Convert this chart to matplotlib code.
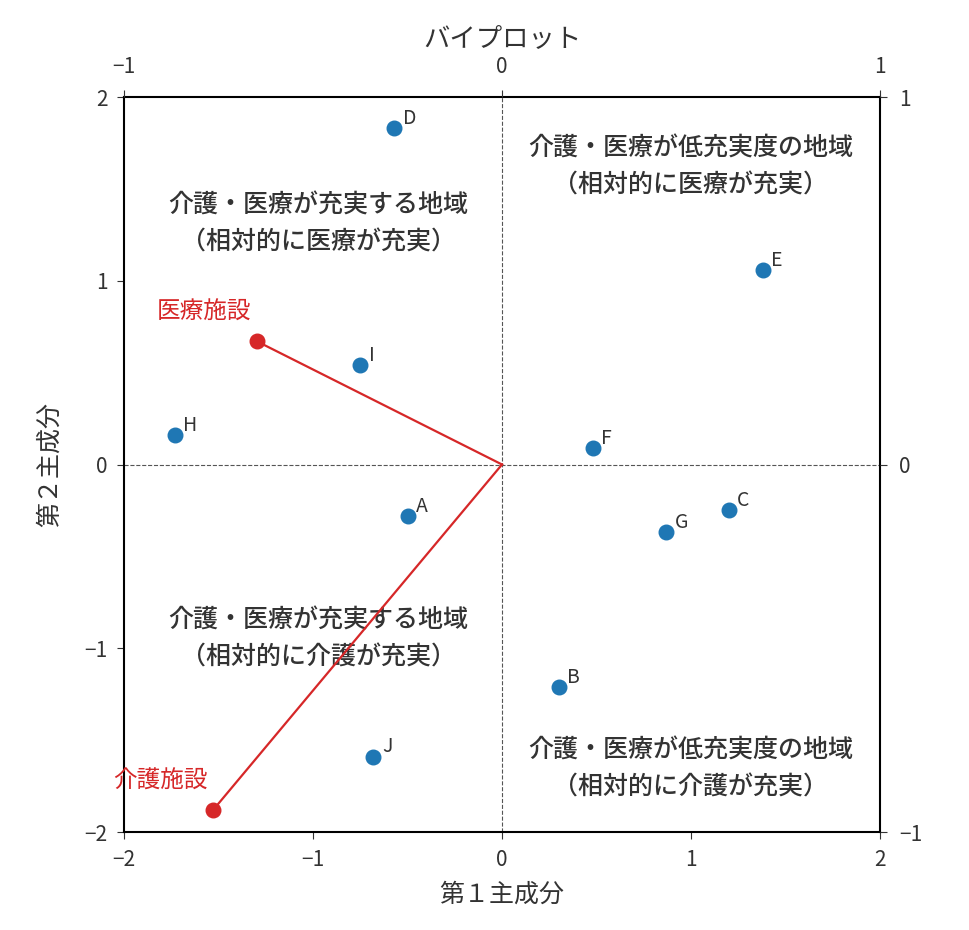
import numpy as np
import matplotlib.pyplot as plt

plt.rcParams['font.family'] = ['Noto Sans CJK JP', 'DejaVu Sans']

# scores (principal components)
names = ['A', 'B', 'C', 'D', 'E', 'F', 'G', 'H', 'I', 'J']
pc1 = [-0.50, 0.30, 1.20, -0.57, 1.38, 0.48, 0.87, -1.73, -0.75, -0.68]
pc2 = [-0.28, -1.21, -0.25, 1.83, 1.06, 0.09, -0.37, 0.16, 0.54, -1.59]

# loadings (secondary axes, -1..1)
var_names = ['医療施設', '介護施設']
load1 = [-0.648, -0.765]
load2 = [0.335, -0.941]

quad_texts = [
    (-0.97, 1.31, '介護・医療が充実する地域\n（相対的に医療が充実）'),
    (1.0, 1.62, '介護・医療が低充実度の地域\n（相対的に医療が充実）'),
    (-0.97, -0.95, '介護・医療が充実する地域\n（相対的に介護が充実）'),
    (1.0, -1.66, '介護・医療が低充実度の地域\n（相対的に介護が充実）'),
]

fig = plt.figure(figsize=(9.69, 9.30), dpi=100)
ax = fig.add_axes([124/969, 1 - 832/930, 756/969, 735/930])

ax.scatter(pc1, pc2, s=110, color='#1f77b4', zorder=3)
for n, x, y in zip(names, pc1, pc2):
    ax.annotate(n, (x, y), xytext=(6, 3), textcoords='offset points',
                fontsize=14, color='#333333')

ax.axhline(0, color='#555555', lw=0.8, ls='--')
ax.axvline(0, color='#555555', lw=0.8, ls='--')

for x, y, t in quad_texts:
    ax.text(x, y, t, ha='center', va='center', fontsize=18,
            color='#333333', linespacing=1.55, fontweight='medium')

ax.set_xlim(-2, 2)
ax.set_ylim(-2, 2)
ax.set_xticks([-2, -1, 0, 1, 2])
ax.set_yticks([-2, -1, 0, 1, 2])
ax.tick_params(labelsize=15, colors='#333333', length=5, pad=7)
ax.set_xlabel('第１主成分', fontsize=18, color='#333333', labelpad=8)
ax.set_ylabel('第２主成分', fontsize=18, color='#333333', labelpad=15)

ax2 = fig.add_axes(ax.get_position(), frameon=False)
ax2.xaxis.tick_top()
ax2.yaxis.tick_right()
ax2.set_xlim(-1, 1)
ax2.set_ylim(-1, 1)
ax2.set_xticks([-1, 0, 1])
ax2.set_yticks([-1, 0, 1])
ax2.tick_params(labelsize=15, colors='#333333', length=5, pad=9)
ax2.set_title('バイプロット', fontsize=19, color='#333333', pad=7)

for n, x, y in zip(var_names, load1, load2):
    ax2.plot([0, x], [0, y], color='#d62728', lw=1.6)
    ax2.scatter([x], [y], s=110, color='#d62728', zorder=3)
    ax2.annotate(n, (x, y), xytext=(-38, 21), textcoords='offset points',
                 fontsize=17, color='#d62728', ha='center', va='center')

for s in ax.spines.values():
    s.set_linewidth(1.5)

fig.savefig('out.png', dpi=100)
